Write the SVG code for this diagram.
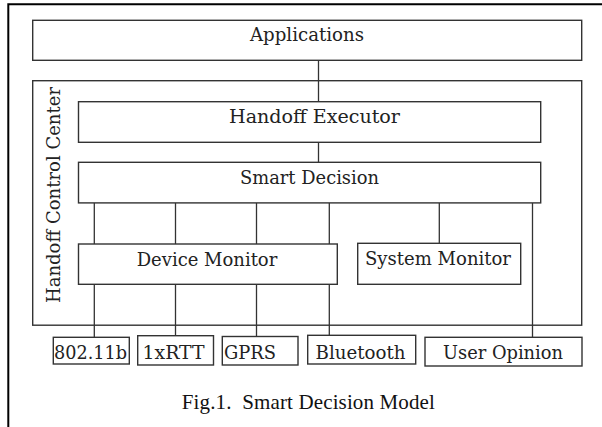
<svg xmlns="http://www.w3.org/2000/svg" width="602" height="427" viewBox="0 0 602 427">
<style>
.box{fill:#fff;stroke:#333;stroke-width:1.4}
.frame{fill:none;stroke:#000;stroke-width:2}
.t{font-family:"DejaVu Serif","Liberation Serif",serif;font-size:18px;fill:#222;text-anchor:middle}
.cap{font-family:"Liberation Serif","Times New Roman",serif;font-size:21px;fill:#111;text-anchor:middle}
.conn line{stroke:#333;stroke-width:1.3}
</style>
<rect width="602" height="427" fill="#fff"/>
<path class="frame" d="M8.3,427 V4.2 H602"/>
<g id="hcc">
<rect class="box" x="32.7" y="80.7" width="549" height="244.5"/>
<text class="t" transform="translate(59.5,303) rotate(-90)" x="108" y="0" textLength="216" lengthAdjust="spacing">Handoff Control Center</text>
</g>
<g class="conn" id="connectors">
<line x1="318.5" y1="60.3" x2="318.5" y2="101.7"/>
<line x1="318.5" y1="142.3" x2="318.5" y2="162.3"/>
<line x1="94.3" y1="202.7" x2="94.3" y2="244"/>
<line x1="175.5" y1="202.7" x2="175.5" y2="244"/>
<line x1="256.5" y1="202.7" x2="256.5" y2="244"/>
<line x1="329.3" y1="202.7" x2="329.3" y2="244"/>
<line x1="439.3" y1="202.7" x2="439.3" y2="243.3"/>
<line x1="532.5" y1="202.7" x2="532.5" y2="337.3"/>
<line x1="94.3" y1="284.3" x2="94.3" y2="337.3"/>
<line x1="175.5" y1="284.3" x2="175.5" y2="335.7"/>
<line x1="256.5" y1="284.3" x2="256.5" y2="336.5"/>
<line x1="329.3" y1="284.3" x2="329.3" y2="335.3"/>
</g>
<g id="applications">
<rect class="box" x="32.7" y="20.3" width="549" height="40"/>
<text class="t" x="307" y="40.5" textLength="114" lengthAdjust="spacingAndGlyphs">Applications</text>
</g>
<g id="handoff-executor">
<rect class="box" x="78.5" y="101.7" width="462.2" height="40.6"/>
<text class="t" x="314.5" y="123.3" textLength="171" lengthAdjust="spacingAndGlyphs">Handoff Executor</text>
</g>
<g id="smart-decision">
<rect class="box" x="78.5" y="162.3" width="462.2" height="40.6"/>
<text class="t" x="309.5" y="184" textLength="139" lengthAdjust="spacingAndGlyphs">Smart Decision</text>
</g>
<g id="device-monitor">
<rect class="box" x="78.5" y="244" width="258.8" height="40.3"/>
<text class="t" x="207" y="266" textLength="140.6" lengthAdjust="spacingAndGlyphs">Device Monitor</text>
</g>
<g id="system-monitor">
<rect class="box" x="357.7" y="243.3" width="163" height="41"/>
<text class="t" x="438" y="265" textLength="146" lengthAdjust="spacingAndGlyphs">System Monitor</text>
</g>
<g id="n80211b">
<rect class="box" x="53.3" y="337.3" width="76" height="26.7"/>
<text class="t" x="90.5" y="359" textLength="73" lengthAdjust="spacingAndGlyphs">802.11b</text>
</g>
<g id="n1xrtt">
<rect class="box" x="137.7" y="335.7" width="75.8" height="29.3"/>
<text class="t" x="173.5" y="359" textLength="62" lengthAdjust="spacingAndGlyphs">1xRTT</text>
</g>
<g id="gprs">
<rect class="box" x="222.3" y="336.5" width="75.7" height="28.5"/>
<text class="t" x="250" y="359" textLength="52" lengthAdjust="spacingAndGlyphs">GPRS</text>
</g>
<g id="bluetooth">
<rect class="box" x="307.7" y="335.3" width="108" height="28.7"/>
<text class="t" x="360.6" y="358.5" textLength="90" lengthAdjust="spacingAndGlyphs">Bluetooth</text>
</g>
<g id="user-opinion">
<rect class="box" x="425" y="337.3" width="157" height="28.7"/>
<text class="t" x="503" y="358.5" textLength="120" lengthAdjust="spacingAndGlyphs">User Opinion</text>
</g>
<text class="cap" x="308.3" y="408.5" xml:space="preserve" textLength="253" lengthAdjust="spacing">Fig.1.  Smart Decision Model</text>
</svg>
